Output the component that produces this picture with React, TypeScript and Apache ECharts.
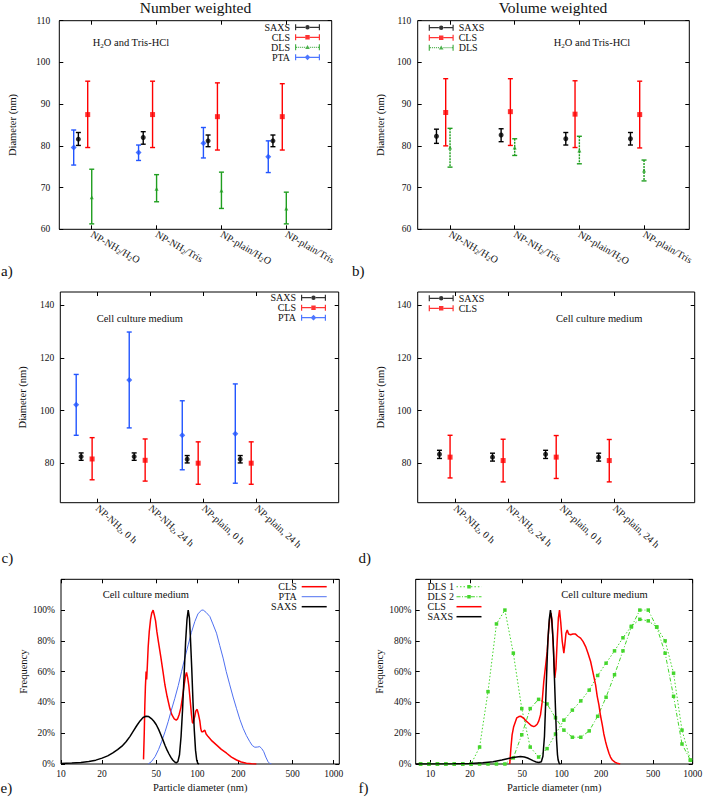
import React, { useEffect, useRef } from "react";
import * as echarts from "echarts";

const FONT = "'Liberation Serif', 'Times New Roman', serif";
const TXT = "#111111";

// ---------------- data ----------------
const catsAB = ["NP-NH{s|2}/H{s|2}O", "NP-NH{s|2}/Tris", "NP-plain/H{s|2}O", "NP-plain/Tris"];
const catsCD = ["NP-NH{s|2}, 0 h", "NP-NH{s|2}, 24 h", "NP-plain, 0 h", "NP-plain, 24 h"];

// panel a (number weighted, H2O / Tris)
const aSaxsMean = [81.6, 82.0, 81.2, 81.2];
const aSaxsLow = [80.1, 80.4, 79.8, 79.8];
const aSaxsHigh = [83.2, 83.4, 82.6, 82.6];
const aClsMean = [87.5, 87.5, 87.0, 87.0];
const aClsLow = [79.6, 79.6, 79.0, 79.0];
const aClsHigh = [95.5, 95.5, 95.1, 94.9];
const aDlsMean = [67.7, 69.7, 69.3, 65.0];
const aDlsLow = [61.3, 66.6, 65.0, 61.3];
const aDlsHigh = [74.4, 73.1, 73.7, 68.9];
const aPtaMean = [79.6, 78.4, 80.6, 77.4];
const aPtaLow = [75.4, 76.5, 77.1, 73.6];
const aPtaHigh = [83.8, 80.2, 84.4, 81.2];

// panel b (volume weighted, H2O / Tris)
const bSaxsMean = [82.3, 82.6, 81.7, 81.7];
const bSaxsLow = [80.6, 81.0, 80.2, 80.2];
const bSaxsHigh = [84.0, 84.1, 83.2, 83.2];
const bClsMean = [88.0, 88.2, 87.6, 87.5];
const bClsLow = [80.0, 80.1, 79.6, 79.5];
const bClsHigh = [96.1, 96.1, 95.6, 95.5];
const bDlsMean = [79.6, 79.6, 78.9, 74.1];
const bDlsLow = [74.9, 77.7, 75.7, 71.6];
const bDlsHigh = [84.2, 81.7, 82.3, 76.6];

// panel c (number weighted, cell culture medium)
const cSaxsMean = [82.5, 82.5, 81.5, 81.5];
const cSaxsLow = [81.1, 81.1, 80.1, 80.1];
const cSaxsHigh = [83.9, 83.9, 82.9, 82.9];
const cClsMean = [81.6, 81.1, 80.0, 80.0];
const cClsLow = [73.7, 73.2, 72.0, 72.0];
const cClsHigh = [89.7, 89.2, 88.1, 88.1];
const cPtaMean = [102.2, 111.6, 90.6, 91.2];
const cPtaLow = [90.6, 93.4, 77.5, 72.4];
const cPtaHigh = [113.7, 129.8, 103.7, 110.1];

// panel d (volume weighted, cell culture medium)
const dSaxsMean = [83.4, 82.3, 83.4, 82.3];
const dSaxsLow = [81.8, 80.8, 81.8, 80.8];
const dSaxsHigh = [84.9, 83.8, 84.9, 83.8];
const dClsMean = [82.3, 81.0, 82.3, 81.0];
const dClsLow = [74.4, 72.9, 74.2, 72.9];
const dClsHigh = [90.6, 89.1, 90.5, 89.0];

// panel e distributions [diameter nm, frequency %]
const eCls = [[40.3,3],[40.8,20],[41.2,38],[41.6,50],[42.1,60],[42.5,55],[43,64],[43.6,76],[44.4,86],[45.4,94],[46.3,98],[47.4,100],[48.3,97],[49.4,93],[50.5,86],[51.7,80],[53,74],[54.1,69],[56,60],[57.8,51.5],[60,44],[62.9,36],[65,32],[67.7,29.3],[70,28.5],[71.6,29.3],[73.5,32],[75.7,36.5],[78,44],[80.1,51.5],[81.8,57],[83.3,59.5],[85,56],[86.6,51],[88.5,42],[90.6,32],[92,27],[93.1,26.5],[94.5,29],[95.8,31],[97.5,34.5],[99.7,35.5],[101.5,33],[104.3,28],[106,23],[107.4,21],[110,21],[113.5,22],[116,19.5],[120,17.8],[128,15],[138,12.4],[150,9.5],[164,7],[178,4.5],[194,2.6],[210,1.3],[229,0.5],[250,0.15],[271,0]];
const ePta = [[43.6,0],[46,1.5],[49,4.8],[52,9.5],[54.7,14.5],[58,21],[61.1,27.5],[64.5,35],[68.4,42.7],[72.5,51],[76.6,60],[81,69],[85.7,77.4],[90.5,85.5],[95.9,92.6],[101,97.5],[107.4,100],[110.5,100],[116,98.5],[123.6,95.8],[130,91],[138.3,85],[146,77],[154.6,68.8],[163,60],[173,51.4],[183,43.5],[193.6,36.2],[205,29],[216.7,23.2],[229,18.5],[242.6,14.5],[253,12],[264,10.9],[275,11],[287,11.3],[297,10],[307,8],[318,4.5],[330,1.5],[340,0.3],[350,0]];
const eSaxs = [[10,0.3],[12,0.6],[14,1.0],[16,1.6],[18,2.5],[20,3.8],[22,5.3],[24,7.2],[26,9.3],[28,11.6],[30,14.5],[32,17.8],[34,21.5],[36,25],[38,28],[40,30.2],[42,31],[44,30.8],[46,29.5],[48,27.8],[50,25.5],[52,22.5],[54,19],[56,15.5],[58,12],[60,9],[62,6.5],[64,4.3],[66,2.6],[68,1.4],[70,0.8],[72,1.5],[74,6],[76,18],[78,36],[80,58],[82,79],[84,94],[85.7,100],[87.5,95],[89,82],[91,62],[93,40],[95,22],[97,9],[99,2.5],[101,0.3],[103,0]];

// panel f distributions
const dlsBins = [8.39, 9.72, 11.28, 13.08, 15.17, 17.59, 20.4, 23.66, 27.44, 31.83, 36.92, 42.81, 49.65, 57.58, 66.77, 77.44, 89.82, 104.1, 120.8, 140.1, 162.4, 188.4, 218.5, 253.4, 293.9, 340.8, 395.3, 458.5, 531.7, 616.6, 715.1, 829.4, 961.6];
const dls1Freq = [0,0,0,0,0,0,0,11,47,91,100,72,36,11,4.5,10,19.5,28.5,35,41,48,57.5,65.5,73.5,82,89.5,94,93,89,80,59,22,2.5];
const dls2Freq = [0,0,0,0,0,0,0,0,0,0,0,4,19,36,42,39,30,22,17.4,17.4,21.5,31,43.4,58,73.5,89,100,100,89,72,44,13,2.5];
const fCls = [[40.2,0],[41,10],[41.9,18.9],[43,24],[44.4,27.5],[45.5,30],[47.2,30.8],[49,31],[51.4,29.7],[53.5,28],[56.1,26.5],[58.5,25],[61.3,24.3],[63,24.8],[65.1,25.8],[67,28],[69,31.9],[71,40],[73.1,53.5],[75.5,64],[77.6,73],[79.8,88],[81.5,96],[83,98],[84.5,93],[86.5,76],[88.7,56],[90.5,62],[92.5,80],[94.5,95],[96.4,100],[98.5,92],[101,80],[104,72],[106,78],[108,85],[110.4,87],[113,84.5],[117,84],[122,84.5],[127.7,84.4],[133,83],[139.6,81.8],[146,79.5],[152.5,76.3],[159,72],[166.5,66.6],[174,59],[181.7,51.4],[187,44],[192.6,38.4],[198,31.5],[204.4,25.4],[210,19.5],[216.6,14.5],[223,10.5],[229.8,7],[236,4.5],[243.6,2.6],[255,1.2],[266,0.5],[280,0]];
const fSaxs = [[7.7,0],[15,0.1],[20,0.3],[25,0.8],[30,1.5],[35,2.6],[40,3.7],[44,4.4],[48.5,4.8],[52,4.5],[55,3.9],[57.8,3],[61,2],[64,1.3],[67,1],[70,1.5],[72,5],[74,18],[75.3,36],[77,60],[78.5,79.6],[80.5,94],[82.2,100],[84,94],[86.2,79.6],[88,58],[89.8,36],[91.5,16],[93,6],[94.1,2.6],[96,0.3],[98,0]];

const logTicks = [10, 20, 50, 100, 200, 500, 1000];

// ---------------- styles ----------------
const C_SAXS = "#000000";
const C_CLS = "#ff0000";
const C_DLS = "#1f9e1f";
const C_PTA = "#2255ff";
const C_PTA_E = "#4f70f0";
const C_DLS_F = "#44d62c";

const TICK = { show: true, inside: true, length: 4, lineStyle: { color: "#000", width: 1 } };
const NOLINE = { show: false, onZero: false };
const SUB = { s: { fontSize: 7, lineHeight: 8, verticalAlign: "bottom", fontFamily: FONT, color: TXT } };

// legend icon helpers
function segs(x0: number, x1: number, y: number, h: number, pat?: number[]) {
  if (!pat) return `M${x0},${y}h${x1 - x0}v${h}h${-(x1 - x0)}z `;
  let d = "";
  let x = x0;
  let k = 0;
  while (x < x1) {
    const on = Math.min(pat[k % pat.length], x1 - x);
    if (k % 2 === 0 && on > 0) d += `M${x},${y}h${on}v${h}h${-on}z `;
    x += pat[k % pat.length];
    k++;
  }
  return d;
}
function marker(kind: string, cx: number, cy: number) {
  if (kind === "circle") return `M${cx - 2.2},${cy}a2.2,2.2 0 1,0 4.4,0a2.2,2.2 0 1,0 -4.4,0z`;
  if (kind === "rect") return `M${cx - 2.2},${cy - 2.2}h4.4v4.4h-4.4z`;
  if (kind === "triangle") return `M${cx},${cy - 2.2}L${cx + 2.3},${cy + 1.8}L${cx - 2.3},${cy + 1.8}z`;
  if (kind === "diamond") return `M${cx},${cy - 2.9}L${cx + 2.9},${cy}L${cx},${cy + 2.9}L${cx - 2.9},${cy}z`;
  return "";
}
function errIcon(kind: string, pat?: number[]) {
  let d = "M0,0h1.2v6h-1.2z M23.8,0h1.2v6h-1.2z ";
  d += segs(1.2, 10.2, 2.35, 1.3, pat) + segs(14.8, 23.8, 2.35, 1.3, pat);
  d += marker(kind, 12.5, 3);
  return "path://" + d;
}
function lineIcon(w: number) {
  return `path://M0,0h25v${w}h-25z`;
}
function dlsIcon(pat: number[]) {
  let d = segs(0, 10.6, 1.25, 1, pat) + segs(14.4, 25, 1.25, 1, pat);
  d += "M10.75,0h3.5v3.5h-3.5z";
  return "path://" + d;
}

function buildOption() {
  const grids: any[] = [];
  const xAxes: any[] = [];
  const yAxes: any[] = [];
  const series: any[] = [];
  const legends: any[] = [];

  const addGrid = (left: number, top: number, width: number, height: number) => {
    grids.push({ left, top, width, height, show: true, borderColor: "#000", borderWidth: 1, backgroundColor: "rgba(0,0,0,0)", containLabel: false, outerBoundsMode: "none" });
    return grids.length - 1;
  };

  const yAxisPair = (g: number, y: any) => {
    const idx = yAxes.length;
    const tick = y.ticks ? { ...TICK, customValues: y.ticks } : TICK;
    yAxes.push({
      type: "value", gridIndex: g, position: "left", min: y.min, max: y.max,
      ...(y.interval ? { interval: y.interval } : {}),
      axisLine: NOLINE, splitLine: { show: false }, axisTick: tick,
      axisLabel: { margin: y.margin, fontFamily: FONT, fontSize: 9.5, color: TXT, ...(y.ticks ? { customValues: y.ticks } : {}), ...(y.formatter ? { formatter: y.formatter } : {}) },
      name: y.name, nameLocation: "middle", nameGap: y.nameGap,
      nameTextStyle: { fontFamily: FONT, fontSize: 10.5, color: TXT },
    });
    yAxes.push({
      type: "value", gridIndex: g, position: "right", min: y.min, max: y.max,
      ...(y.interval ? { interval: y.interval } : {}),
      axisLine: NOLINE, splitLine: { show: false }, axisTick: tick, axisLabel: { show: false },
    });
    return idx;
  };

  const catPanel = (g: number, xmin: number, xmax: number, cats: string[], rotate: number, y: any) => {
    const xi = xAxes.length;
    const vals = cats.map((_, i) => i);
    xAxes.push({
      type: "value", gridIndex: g, position: "bottom", min: xmin, max: xmax,
      axisLine: NOLINE, splitLine: { show: false },
      axisTick: { ...TICK, customValues: vals },
      axisLabel: {
        customValues: vals, formatter: (v: number) => cats[Math.round(v)] || "", rotate, margin: 4,
        fontFamily: FONT, fontSize: 10, color: TXT, lineHeight: 13, rich: SUB,
      },
    });
    xAxes.push({
      type: "value", gridIndex: g, position: "top", min: xmin, max: xmax,
      axisLine: NOLINE, splitLine: { show: false },
      axisTick: { ...TICK, customValues: vals }, axisLabel: { show: false },
    });
    const yi = yAxisPair(g, y);
    return { x: xi, y: yi };
  };

  const logPanel = (g: number, dmin: number, dmax: number, y: any) => {
    const dataIdx = xAxes.length;
    xAxes.push({ type: "log", logBase: 10, gridIndex: g, position: "bottom", min: dmin, max: dmax, show: false, axisLine: NOLINE, splitLine: { show: false } });
    const lmin = Math.log10(dmin), lmax = Math.log10(dmax);
    const tv = logTicks.map((t) => Math.log10(t));
    xAxes.push({
      type: "value", gridIndex: g, position: "bottom", min: lmin, max: lmax,
      axisLine: NOLINE, splitLine: { show: false },
      axisTick: { ...TICK, customValues: tv },
      axisLabel: { customValues: tv, formatter: (v: number) => String(Math.round(Math.pow(10, v))), margin: 5, fontFamily: FONT, fontSize: 9.5, color: TXT },
      name: "Particle diameter (nm)", nameLocation: "middle", nameGap: 18,
      nameTextStyle: { fontFamily: FONT, fontSize: 10.5, color: TXT },
    });
    xAxes.push({
      type: "value", gridIndex: g, position: "top", min: lmin, max: lmax,
      axisLine: NOLINE, splitLine: { show: false },
      axisTick: { ...TICK, customValues: tv }, axisLabel: { show: false },
    });
    const yi = yAxisPair(g, y);
    return { x: dataIdx, y: yi };
  };

  const addErr = (tag: string, name: string, ax: any, off: number, mean: number[], lo: number[], hi: number[], color: string, symbol: string, size: number, dash?: number[]) => {
    series.push({
      type: "custom", name: `${tag}:${name}:bar`, xAxisIndex: ax.x, yAxisIndex: ax.y, silent: true, clip: false,
      data: mean.map((_, i) => [i + off, lo[i], hi[i]]),
      encode: { x: 0, y: [1, 2] },
      itemStyle: { color },
      renderItem: (_p: any, api: any) => {
        const x = api.value(0), l = api.value(1), h = api.value(2);
        const a = api.coord([x, h]);
        const b = api.coord([x, l]);
        const cw = 2.5;
        const st: any = { stroke: color, lineWidth: 1.4, fill: null };
        const vst: any = dash ? { ...st, lineDash: dash } : st;
        return {
          type: "group",
          children: [
            { type: "line", shape: { x1: a[0], y1: a[1], x2: b[0], y2: b[1] }, style: vst },
            { type: "line", shape: { x1: a[0] - cw, y1: a[1], x2: a[0] + cw, y2: a[1] }, style: st },
            { type: "line", shape: { x1: b[0] - cw, y1: b[1], x2: b[0] + cw, y2: b[1] }, style: st },
          ],
        };
      },
    });
    series.push({
      type: "scatter", name: `${tag}:${name}`, xAxisIndex: ax.x, yAxisIndex: ax.y, silent: true,
      data: mean.map((m, i) => [i + off, m]),
      symbol, symbolSize: size, itemStyle: { color, borderWidth: 0 },
    });
  };

  const addLine = (tag: string, name: string, ax: any, data: number[][], color: string, width: number, opts: any = {}) => {
    series.push({
      type: "line", name: `${tag}:${name}`, xAxisIndex: ax.x, yAxisIndex: ax.y, silent: true,
      data, symbol: opts.symbol || "none", symbolSize: opts.symbolSize || 0,
      lineStyle: { color, width, type: opts.type || "solid" },
      itemStyle: { color, borderWidth: 0 },
      z: opts.z || 3,
    });
  };

  const addLegend = (tag: string, items: { name: string; icon: string }[], pos: any, align: string, fixedWidth?: number) => {
    const rich = fixedWidth ? { t: { width: fixedWidth, align: "left", fontFamily: FONT, fontSize: 10, color: TXT, lineHeight: 10 } } : undefined;
    legends.push({
      orient: "vertical", align, ...pos, itemWidth: 25, itemHeight: 10, itemGap: 0, padding: 0,
      selectedMode: false, itemStyle: { borderWidth: 0 },
      textStyle: { fontFamily: FONT, fontSize: 10, color: TXT, lineHeight: 10, ...(rich ? { rich } : {}) },
      formatter: (n: string) => (rich ? `{t|${n.split(":")[1]}}` : n.split(":")[1]),
      data: items.map((it) => ({ name: `${tag}:${it.name}`, icon: it.icon })),
    });
  };

  // ---- panel a ----
  const ga = addGrid(59.3, 20.7, 272.4, 208.6);
  const axA = catPanel(ga, -0.5, 3.7, catsAB, -30, { min: 60, max: 110, interval: 10, margin: 9, name: "Diameter (nm)", nameGap: 41 });
  addErr("a", "SAXS", axA, -0.206, aSaxsMean, aSaxsLow, aSaxsHigh, C_SAXS, "circle", 5);
  addErr("a", "CLS", axA, -0.062, aClsMean, aClsLow, aClsHigh, C_CLS, "rect", 5);
  addErr("a", "DLS", axA, 0, aDlsMean, aDlsLow, aDlsHigh, C_DLS, "triangle", 4);
  addErr("a", "PTA", axA, -0.278, aPtaMean, aPtaLow, aPtaHigh, C_PTA, "diamond", 6);
  addLegend("a", [
    { name: "SAXS", icon: errIcon("circle") },
    { name: "CLS", icon: errIcon("rect") },
    { name: "DLS", icon: errIcon("triangle", [1, 1]) },
    { name: "PTA", icon: errIcon("diamond") },
  ], { right: 385, top: 22.3 }, "right");

  // ---- panel b ----
  const gb = addGrid(417.7, 20.7, 271.6, 208.6);
  const axB = catPanel(gb, -0.5, 3.7, catsAB, -30, { min: 60, max: 110, interval: 10, margin: 6.4, name: "Diameter (nm)", nameGap: 32 });
  addErr("b", "SAXS", axB, -0.21, bSaxsMean, bSaxsLow, bSaxsHigh, C_SAXS, "circle", 5);
  addErr("b", "CLS", axB, -0.067, bClsMean, bClsLow, bClsHigh, C_CLS, "rect", 5);
  addErr("b", "DLS", axB, 0, bDlsMean, bDlsLow, bDlsHigh, C_DLS, "triangle", 4, [2, 1]);
  addLegend("b", [
    { name: "SAXS", icon: errIcon("circle") },
    { name: "CLS", icon: errIcon("rect") },
    { name: "DLS", icon: errIcon("triangle", [1, 1]) },
  ], { left: 428.7, top: 22.7 }, "left");

  // ---- panel c ----
  const gc = addGrid(60.3, 292, 278.4, 210.7);
  const axC = catPanel(gc, -0.7, 4.55, catsCD, -42, { min: 65, max: 145, ticks: [80, 100, 120, 140], margin: 6, name: "Diameter (nm)", nameGap: 32.6 });
  addErr("c", "SAXS", axC, -0.307, cSaxsMean, cSaxsLow, cSaxsHigh, C_SAXS, "circle", 5);
  addErr("c", "CLS", axC, -0.1, cClsMean, cClsLow, cClsHigh, C_CLS, "rect", 5);
  addErr("c", "PTA", axC, -0.4, cPtaMean, cPtaLow, cPtaHigh, C_PTA, "diamond", 6);
  addLegend("c", [
    { name: "SAXS", icon: errIcon("circle") },
    { name: "CLS", icon: errIcon("rect") },
    { name: "PTA", icon: errIcon("diamond") },
  ], { right: 379, top: 292.7 }, "right");

  // ---- panel d ----
  const gd = addGrid(417.7, 292, 277, 210.7);
  const axD = catPanel(gd, -0.71, 4.51, catsCD, -42, { min: 65, max: 145, ticks: [80, 100, 120, 140], margin: 6.4, name: "Diameter (nm)", nameGap: 31.7 });
  addErr("d", "SAXS", axD, -0.3, dSaxsMean, dSaxsLow, dSaxsHigh, C_SAXS, "circle", 5);
  addErr("d", "CLS", axD, -0.1, dClsMean, dClsLow, dClsHigh, C_CLS, "rect", 5);
  addLegend("d", [
    { name: "SAXS", icon: errIcon("circle") },
    { name: "CLS", icon: errIcon("rect") },
  ], { left: 428.7, top: 293.3 }, "left");

  const pct = (v: number) => (v > 100 ? "" : `${v}%`);

  // ---- panel e ----
  const ge = addGrid(61, 579.3, 278.3, 184.7);
  const axE = logPanel(ge, 10, 1100, { min: 0, max: 120, interval: 20, margin: 6, formatter: pct, name: "Frequency", nameGap: 32 });
  addLine("e", "CLS", axE, eCls, C_CLS, 1.5);
  addLine("e", "PTA", axE, ePta, C_PTA_E, 1);
  addLine("e", "SAXS", axE, eSaxs, C_SAXS, 1.5, { z: 4 });
  addLegend("e", [
    { name: "CLS", icon: lineIcon(1.5) },
    { name: "PTA", icon: lineIcon(1) },
    { name: "SAXS", icon: lineIcon(1.5) },
  ], { right: 378.3, top: 581.7 }, "right");

  // ---- panel f ----
  const gf = addGrid(415.7, 579.3, 277, 184.7);
  const axF = logPanel(gf, 7.7, 1001, { min: 0, max: 120, interval: 20, margin: 4.4, formatter: pct, name: "Frequency", nameGap: 31 });
  addLine("f", "DLS 1", axF, dlsBins.map((d, i) => [d, dls1Freq[i]]), C_DLS_F, 1, { symbol: "rect", symbolSize: 3.5, type: [1.5, 2], z: 2 });
  addLine("f", "DLS 2", axF, dlsBins.map((d, i) => [d, dls2Freq[i]]), C_DLS_F, 1, { symbol: "rect", symbolSize: 3.5, type: [4, 2, 1, 2], z: 2 });
  addLine("f", "CLS", axF, fCls, C_CLS, 1.5, { z: 3 });
  addLine("f", "SAXS", axF, fSaxs, C_SAXS, 1.5, { z: 4 });
  addLegend("f", [
    { name: "DLS 1", icon: dlsIcon([1.5, 2]) },
    { name: "DLS 2", icon: dlsIcon([4, 1.5, 1, 1.5]) },
    { name: "CLS", icon: lineIcon(1.5) },
    { name: "SAXS", icon: lineIcon(1.5) },
  ], { right: 223.5, top: 581.7 }, "right", 24);

  // ---- texts ----
  const txt = (text: string, x: number, y: number, size: number, align: string, rich?: any) => ({
    type: "text", silent: true, z: 10,
    style: {
      text, x, y, fill: TXT, fontFamily: FONT, fontSize: size, lineHeight: size + 3,
      align, verticalAlign: "middle", textAlign: align, textVerticalAlign: "middle",
      ...(rich ? { rich } : {}),
    },
  });
  const SUBG = { s: { fontSize: 7, lineHeight: 8, verticalAlign: "bottom", fontFamily: FONT, fill: TXT } };
  const graphic = [
    txt("Number weighted", 195.5, 7.5, 15.5, "center"),
    txt("Volume weighted", 553, 7.5, 15.5, "center"),
    txt("H{s|2}O and Tris-HCl", 92.7, 42.7, 10.5, "left", SUBG),
    txt("H{s|2}O and Tris-HCl", 553.7, 42.7, 10.5, "left", SUBG),
    txt("Cell culture medium", 96.7, 318.3, 10.5, "left"),
    txt("Cell culture medium", 556, 318.3, 10.5, "left"),
    txt("Cell culture medium", 102.7, 594, 10.5, "left"),
    txt("Cell culture medium", 561.3, 594, 10.5, "left"),
    txt("a)", 1, 270.5, 15, "left"),
    txt("b)", 352, 270.5, 15, "left"),
    txt("c)", 1.5, 558, 15, "left"),
    txt("d)", 358.5, 558, 15, "left"),
    txt("e)", 0.5, 788, 15, "left"),
    txt("f)", 358.5, 788, 15, "left"),
  ];

  return {
    animation: false,
    backgroundColor: "#ffffff",
    textStyle: { fontFamily: FONT },
    grid: grids,
    xAxis: xAxes,
    yAxis: yAxes,
    legend: legends,
    series,
    graphic,
  };
}

export default function App() {
  const ref = useRef<HTMLDivElement>(null);
  useEffect(() => {
    if (!ref.current) return;
    const chart = echarts.init(ref.current, null, { renderer: "svg" });
    chart.setOption(buildOption() as any);
    return () => chart.dispose();
  }, []);
  return (
    <div
      ref={ref}
      style={{ position: "fixed", left: 0, top: 0, width: 705, height: 799, background: "#ffffff" }}
    />
  );
}
